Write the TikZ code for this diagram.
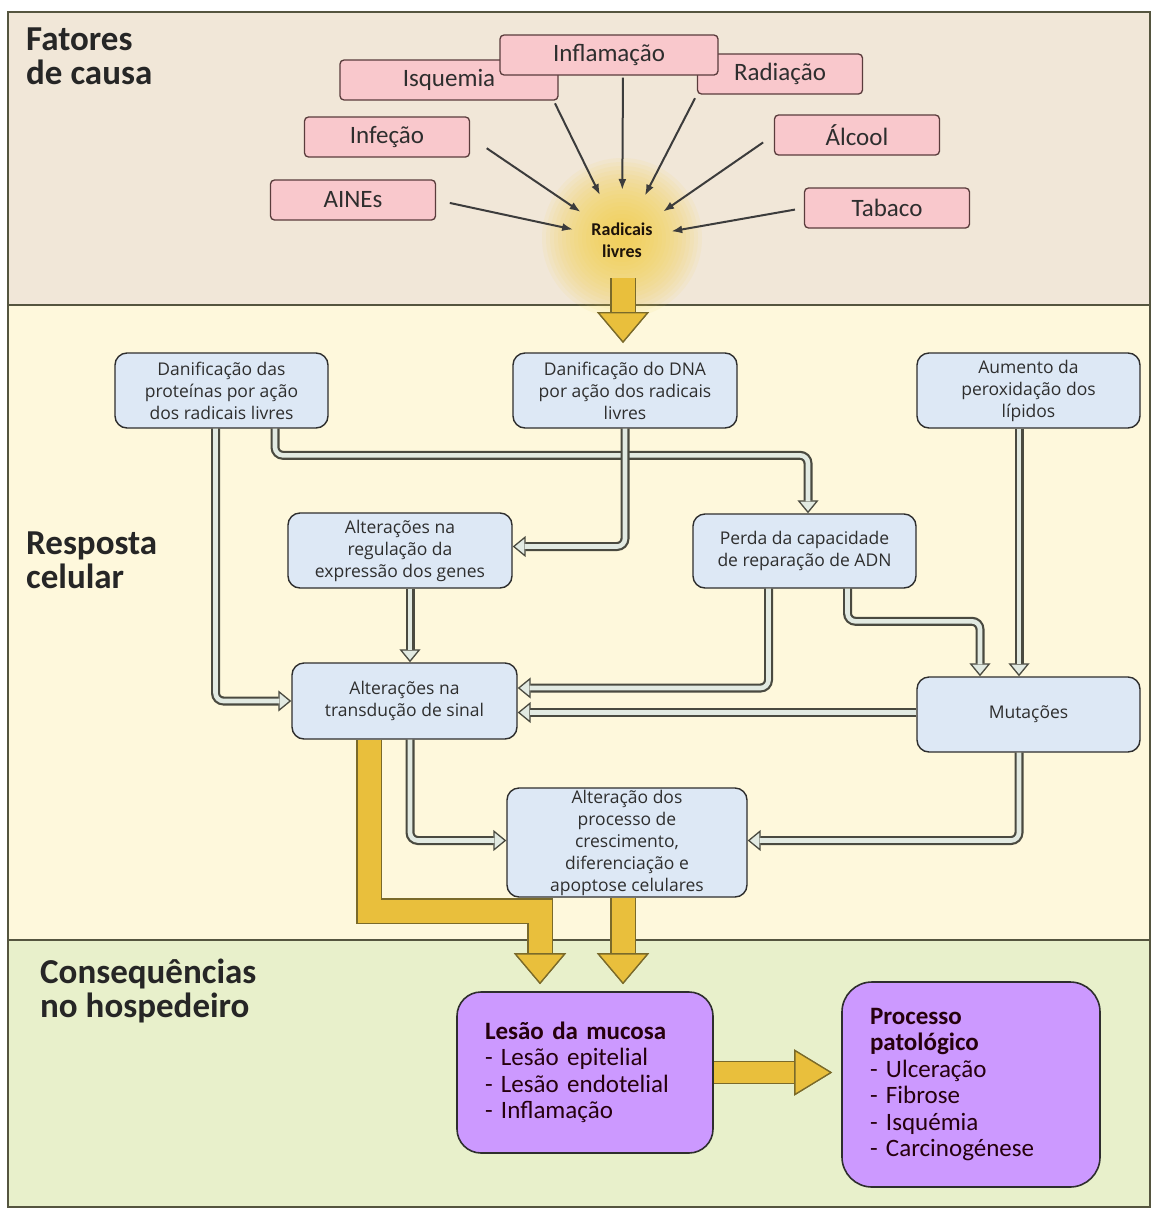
\documentclass[tikz,border=0pt]{standalone}
\usepackage{fontspec}
\setmainfont{Carlito}
\newfontfamily\boxfont{Open Sans}
\newfontfamily\lesionfont{Carlito}[WordSpace=0.75]
\usetikzlibrary{arrows.meta, positioning, calc}

\definecolor{topband}{HTML}{F1E7D8}
\definecolor{midband}{HTML}{FEF8DC}
\definecolor{lowband}{HTML}{E8F0CB}
\definecolor{bandline}{HTML}{55553F}
\definecolor{pinkfill}{HTML}{F9C8CC}
\definecolor{pinkline}{HTML}{5A3C3C}
\definecolor{bluefill}{HTML}{DDE8F5}
\definecolor{boxline}{HTML}{2E2E2E}
\definecolor{pipeline}{HTML}{4A4A40}
\definecolor{pipefill}{HTML}{E2EAE2}
\definecolor{goldfill}{HTML}{E9BF3C}
\definecolor{goldline}{HTML}{7A6A2A}
\definecolor{glowcore}{HTML}{F6D040}
\definecolor{purplefill}{HTML}{CC99FF}
\definecolor{arrowgray}{HTML}{3C3C3C}
\definecolor{textdark}{HTML}{2E2E2E}

\begin{document}
\begin{tikzpicture}[
    x=1pt, y=-1pt,
    % --- Global Styles ---
    band/.style={draw=bandline, line width=1.6pt},
    bandlabel/.style={font=\bfseries\fontsize{35}{34}\selectfont, align=left, anchor=north west, inner sep=0pt, text=black!85},
    cause/.style={draw=pinkline, line width=1.3pt, rounded corners=4pt, fill=pinkfill, minimum width=165pt, minimum height=40pt, inner sep=0pt, font=\fontsize{25}{26}\selectfont, text=textdark},
    response/.style={draw=boxline, line width=1.4pt, rounded corners=12pt, fill=bluefill, align=center, inner sep=0pt, font=\boxfont\fontsize{17.5}{22}\selectfont, text=textdark},
    lesion/.style={draw=boxline, line width=1.6pt, rounded corners=24pt, fill=purplefill, align=left, inner xsep=28pt, inner ysep=0pt, font=\lesionfont\fontsize{25}{26.5}\selectfont, text=black!80!purple},
    cause arrow/.style={-{Latex[length=11pt, width=8pt]}, line width=2pt, draw=arrowgray, shorten >=50pt},
    pipe/.style={draw=pipeline, line width=9pt, rounded corners=8pt, -{Triangle[length=13pt, width=21pt, line width=1.3pt, color=pipeline, fill=pipefill]}, postaction={draw=pipefill, line width=4.6pt, -, shorten >=12pt}},
    bigarrow/.style={draw=goldfill, line width=23pt, -{Triangle[length=31pt, width=52pt, line width=1.3pt, color=goldline, fill=goldfill]}, preaction={draw=goldline, line width=25.6pt}},
    sidearrow/.style={draw=goldfill, line width=21pt, -{Triangle[length=38pt, width=46pt, line width=1.3pt, color=goldline, fill=goldfill]}, preaction={draw=goldline, line width=23.6pt}}
]
    \useasboundingbox (0,0) rectangle (1153,1208);

    % --- Bands ---
    \filldraw[band, fill=topband] (8,12) rectangle (1150,305);
    \filldraw[band, fill=midband] (8,305) rectangle (1150,940);
    \filldraw[band, fill=lowband] (8,940) rectangle (1150,1207);

    \node[bandlabel] (lblcause) at (26,28) {Fatores\\de causa};
    \node[bandlabel] (lblcell) at (26,532) {Resposta\\celular};
    \node[bandlabel] (lblhost) at (40,959) {Consequências\\no hospedeiro};

    % --- Causes ---
    % soft glow round the free radicals
    \foreach \r in {80,76,...,8}
        \fill[glowcore, opacity=0.075] (622,238) circle (\r pt);

    \node[cause, minimum width=218pt] (isquemia) at (449,80) {Isquemia};
    \node[cause] (radiacao) at (780,74) {Radiação};
    \node[cause, minimum width=218pt] (inflamacao) at (609,55) {Inflamação};
    \node[cause] (infecao) at (387,137) {Infeção};
    \node[cause] (alcool) at (857,135) {Álcool};
    \node[cause] (aines) at (353,200) {AINEs};
    \node[cause] (tabaco) at (887,208) {Tabaco};

    \node[font=\bfseries\fontsize{18}{22}\selectfont, align=center, text=black!85!brown] (radicais) at (622,240) {Radicais\\livres};

    \draw[cause arrow, shorten <=3pt] ([xshift=-5pt]isquemia.south east) -- (radicais.center);
    \draw[cause arrow, shorten <=2pt] ([xshift=14pt]inflamacao.south) -- (radicais.center);
    \draw[cause arrow, shorten <=4pt] (radiacao.south west) -- (radicais.center);
    \draw[cause arrow, shorten <=13pt] (alcool.west) -- (radicais.center);
    \draw[cause arrow, shorten <=9pt] (tabaco.west) -- (radicais.center);
    \draw[cause arrow, shorten <=20pt] (infecao.east) -- (radicais.center);
    \draw[cause arrow, shorten <=14pt] (aines.east) -- (radicais.center);

    % --- Cell response ---
    \node[response, minimum width=213pt, minimum height=75pt] (protein) at (221.5,390.5) {Danificação das\\proteínas por ação\\dos radicais livres};
    \node[response, minimum width=224pt, minimum height=75pt] (dna) at (625,390.5) {Danificação do DNA\\por ação dos radicais\\livres};
    \node[response, minimum width=223pt, minimum height=75pt] (lipid) at (1028.5,390.5) {Aumento da\\peroxidação dos\\lípidos};
    \node[response, minimum width=224pt, minimum height=75pt] (genes) at (400,550.5) {Alterações na\\regulação da\\expressão dos genes};
    \node[response, minimum width=223pt, minimum height=74pt] (repair) at (804.5,551) {Perda da capacidade\\de reparação de ADN};
    \node[response, minimum width=225pt, minimum height=76pt] (signal) at (404.5,701) {Alterações na\\transdução de sinal};
    \node[response, minimum width=223pt, minimum height=75pt] (mutation) at (1028.5,714.5) {Mutações};
    \node[response, minimum width=240pt, minimum height=109pt] (growth) at (627,842.5) {Alteração dos\\processo de\\crescimento,\\diferenciação e\\apoptose celulares};

    \coordinate (radout) at (623,278);
    \draw[bigarrow] (radout) -- (radout |- 0,343);

    \draw[pipe] ([xshift=-6pt]protein.south) |- (signal.west);
    \draw[pipe] ([xshift=53.5pt]protein.south) |- ([xshift=3.5pt, yshift=58pt]repair.north) -- ([xshift=3.5pt]repair.north);
    \draw[pipe] (dna.south) |- ([yshift=4pt]genes.east);
    \draw[pipe] ([xshift=10pt]genes.south) -- ([xshift=10pt]genes.south |- signal.north);
    \draw[pipe] ([xshift=-36pt]repair.south) |- ([yshift=13pt]signal.east);
    \draw[pipe] ([xshift=43pt]repair.south) |- ([xshift=-48.5pt, yshift=55pt]mutation.north) -- ([xshift=-48.5pt]mutation.north);
    \draw[pipe] ([xshift=-9.5pt]lipid.south) -- ([xshift=-9.5pt]mutation.north);
    \draw[pipe] ([yshift=2pt]mutation.west) -- ([yshift=2pt]mutation.west -| signal.east);
    \draw[pipe] ([xshift=5.5pt]signal.south) |- ([yshift=2pt]growth.west);
    \draw[pipe] ([xshift=-9.5pt]mutation.south) |- ([yshift=2pt]growth.east);

    % --- Consequences ---
    \node[lesion, minimum width=256pt, minimum height=161pt, text width=200pt] (mucosa) at (585,1072.5) {\textbf{Lesão da mucosa}\\- Lesão epitelial\\- Lesão endotelial\\- Inflamação};
    \node[lesion, rounded corners=30pt, minimum width=258pt, minimum height=205pt, text width=202pt] (process) at (971,1084.5) {\textbf{Processo}\\\textbf{patológico}\\- Ulceração\\- Fibrose\\- Isquémia\\- Carcinogénese};

    \draw[bigarrow] ([xshift=-35.5pt]signal.south) |- ([xshift=-45pt, yshift=80pt]mucosa.north) -- ([xshift=-45pt, yshift=7pt]mucosa.north);
    \draw[bigarrow] ([xshift=-4pt]growth.south) -- ([xshift=38pt, yshift=7pt]mucosa.north);
    \draw[sidearrow] (mucosa.east) -- ([xshift=-9pt]process.west |- mucosa.east);

\end{tikzpicture}
\end{document}
